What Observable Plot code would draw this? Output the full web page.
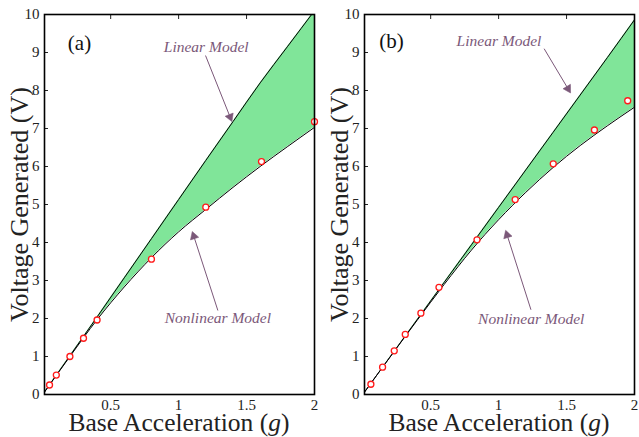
<!DOCTYPE html>
<html><head><meta charset="utf-8">
<script src="https://cdn.jsdelivr.net/npm/d3@7"></script>
<script src="https://cdn.jsdelivr.net/npm/@observablehq/plot@0.6"></script>
<style>
body{margin:0;background:#fff}
#c{display:flex;width:639px;height:437px}
</style>
</head><body><div id="c"></div>
<script>
// ---- data ----
const xGrid = [0, 0.2, 0.4, 0.6, 0.8, 1.0, 1.2, 1.4, 1.6, 1.8, 2.0];

const linearA    = [0, 1.02, 2.04, 3.07, 4.10, 5.13, 6.16, 7.18, 8.20, 9.15, 10.10];
const nonlinearA = [0, 1.00, 1.97, 2.83, 3.60, 4.28, 4.87, 5.45, 6.00, 6.52, 7.03];
const measXA = [0.05, 0.10, 0.20, 0.30, 0.40, 0.80, 1.20, 1.61, 2.00];
const measYA = [0.25, 0.51, 1.00, 1.48, 1.96, 3.56, 4.93, 6.13, 7.18];

const linearB    = [0, 0.985, 1.97, 2.955, 3.94, 4.925, 5.91, 6.895, 7.88, 8.865, 9.86];
const nonlinearB = [0, 0.98, 1.95, 2.90, 3.80, 4.60, 5.32, 5.97, 6.55, 7.07, 7.56];
const measXB = [0.06, 0.146, 0.232, 0.313, 0.428, 0.561, 0.841, 1.122, 1.402, 1.705, 1.95];
const measYB = [0.27, 0.72, 1.15, 1.58, 2.14, 2.82, 4.07, 5.13, 6.07, 6.96, 7.73];

const xTicks = [0.5, 1, 1.5, 2];
const yTicks = [0, 1, 2, 3, 4, 5, 6, 7, 8, 9, 10];
const xDomain = [0.013, 2.0];
const yDomain = [0, 10];

const panelA = {
  tag: "(a)", tagX: 0.185, tagY: 9.24,
  notes: [{x: 1.203, y: 9.14, text: "Linear Model"}, {x: 1.289, y: 2.0, text: "Nonlinear Model"}],
  arrows: [{x1: 1.198, y1: 8.92, x2: 1.387, y2: 7.23}, {x1: 1.289, y1: 2.21, x2: 1.105, y2: 4.24}]
};
const panelB = {
  tag: "(b)", tagX: 0.122, tagY: 9.30,
  notes: [{x: 1.003, y: 9.30, text: "Linear Model"}, {x: 1.24, y: 1.99, text: "Nonlinear Model"}],
  arrows: [{x1: 1.335, y1: 9.10, x2: 1.522, y2: 7.98}, {x1: 1.238, y1: 2.23, x2: 1.056, y2: 4.27}]
};

const yLabel = "Voltage Generated (V)";
const xLabelMain = "Base Acceleration (";
const xLabelVar = "g";
const xLabelEnd = ")";

// ---- drawing ----
const FONT = "Liberation Serif, DejaVu Serif, serif";
const GREEN = "#80e599";
const NOTE = "#7b5879";
const PLOT_W = 270, PLOT_H = 380;

function makePanel(lin, non, mx, my, cfg, width) {
  const curves = xGrid.map((x, i) => ({x, lin: lin[i], non: non[i]}));
  const meas = mx.map((x, i) => ({x, y: my[i]}));
  // pixel-per-unit factors (for arrowhead orientation only)
  const kx = PLOT_W / (xDomain[1] - xDomain[0]);
  const ky = PLOT_H / (yDomain[1] - yDomain[0]);
  const heads = cfg.arrows.map(a => {
    const dxp = (a.x2 - a.x1) * kx, dyp = -(a.y2 - a.y1) * ky;
    const len = Math.hypot(dxp, dyp);
    const f = 3 / len; // pull triangle centroid back from the tip
    return {
      x: a.x2 - (a.x2 - a.x1) * f,
      y: a.y2 - (a.y2 - a.y1) * f,
      angle: Math.atan2(dxp, -dyp) * 180 / Math.PI
    };
  });
  const ML = 44, MT = 14, MB = 43;
  const svg = Plot.plot({
    width, height: 437,
    marginLeft: ML, marginRight: width - ML - PLOT_W, marginTop: MT, marginBottom: MB,
    style: {fontFamily: FONT, fontSize: "15px", color: "#222", background: "white"},
    x: {domain: xDomain},
    y: {domain: yDomain},
    marks: [
      Plot.areaY(curves, {x: "x", y1: "non", y2: "lin", fill: GREEN, curve: "monotone-x", clip: true}),
      Plot.line(curves, {x: "x", y: "lin", stroke: "black", strokeWidth: 1, curve: "monotone-x", clip: true}),
      Plot.line(curves, {x: "x", y: "non", stroke: "black", strokeWidth: 1, curve: "monotone-x", clip: true}),
      Plot.dot(meas, {x: "x", y: "y", r: 3, stroke: "#ff1a1a", strokeWidth: 1.3, fill: "white"}),
      Plot.axisY({anchor: "left", ticks: yTicks, tickSize: 0, tickPadding: 5, label: null, tickFormat: d => String(d), fontFamily: FONT}),
      Plot.axisX({anchor: "bottom", ticks: xTicks, tickSize: 0, tickPadding: 5, label: null, tickFormat: d => String(d), fontFamily: FONT}),
      Plot.axisY({anchor: "left", ticks: yTicks, tickSize: 4, dx: 4, label: null, tickFormat: () => ""}),
      Plot.axisX({anchor: "top", ticks: xTicks.slice(0, 3), tickSize: 4, dy: 4, label: null, tickFormat: () => ""}),
      Plot.frame({stroke: "black", strokeWidth: 1.6}),
      Plot.link(cfg.arrows, {x1: "x1", y1: "y1", x2: "x2", y2: "y2", stroke: NOTE, strokeWidth: 1}),
      Plot.dot(heads, {x: "x", y: "y", symbol: "triangle", r: 3.2, fill: NOTE, stroke: NOTE, strokeWidth: 0.5, rotate: "angle"}),
      Plot.text(cfg.notes, {x: "x", y: "y", text: "text", fill: NOTE, fontSize: 15.5, fontStyle: "italic", fontFamily: FONT, lineAnchor: "middle"}),
      Plot.text([cfg.tag], {x: () => cfg.tagX, y: () => cfg.tagY, text: d => d, textAnchor: "start", fontSize: 21, fill: "#111", fontFamily: FONT, lineAnchor: "middle"}),
      Plot.text([yLabel], {frameAnchor: "left", rotate: -90, dx: -17, text: d => d, textAnchor: "middle", fontSize: 26, fill: "#222", fontFamily: FONT, lineAnchor: "bottom"})
    ]
  });
  // x-axis title with italic variable
  const cx = ML + PLOT_W / 2;
  const t = d3.select(svg).append("text")
    .attr("x", cx).attr("y", 431)
    .attr("text-anchor", "middle")
    .attr("font-family", FONT).attr("font-size", 25.5).attr("fill", "#222");
  t.append("tspan").text(xLabelMain);
  t.append("tspan").attr("font-style", "italic").text(xLabelVar);
  t.append("tspan").text(xLabelEnd);
  return svg;
}

const c = document.getElementById("c");
c.appendChild(makePanel(linearA, nonlinearA, measXA, measYA, panelA, 320));
c.appendChild(makePanel(linearB, nonlinearB, measXB, measYB, panelB, 319));
</script>
</body></html>
